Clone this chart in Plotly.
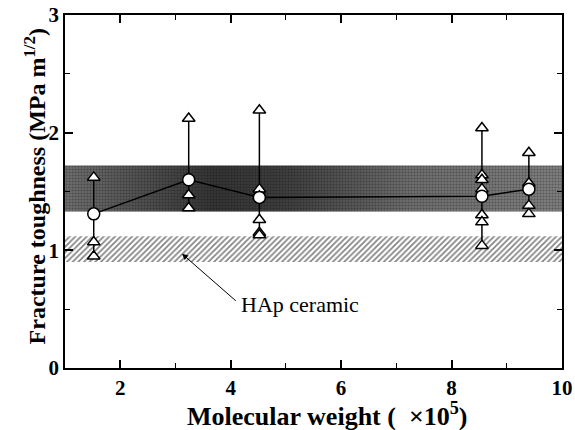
import plotly.graph_objects as go

# Molecular weight (x10^5) of each sample group
mw = [1.52, 3.24, 4.52, 8.55, 9.40]
# Mean fracture toughness (circles)
mean_kic = [1.31, 1.60, 1.45, 1.46, 1.52]
# Individual measurements (triangles) per group
tri_1 = [1.62, 1.07, 0.95]
tri_2 = [2.12, 1.47, 1.36]
tri_3 = [2.19, 1.52, 1.46, 1.26, 1.15, 1.13]
tri_4 = [2.04, 1.64, 1.60, 1.52, 1.30, 1.24, 1.04]
tri_5 = [1.83, 1.57, 1.38, 1.31]
triangles = [tri_1, tri_2, tri_3, tri_4, tri_5]

# Bands: bone range and HAp ceramic range
bone_band = [1.33, 1.72]
hap_band = [0.90, 1.12]
x_range = [1, 10]
y_range = [0, 3]
x_ticks = [2, 4, 6, 8, 10]
x_minor = [3, 5, 7, 9]
y_ticks = [0, 1, 2, 3]
y_minor = [0.5, 1.5, 2.5]

font_fam = "Liberation Serif"

fig = go.Figure()

band_x = [x_range[0], x_range[1], x_range[1], x_range[0], x_range[0]]
bone_y = [bone_band[0], bone_band[0], bone_band[1], bone_band[1], bone_band[0]]

# dark band (gradient grey)
fig.add_trace(go.Scatter(
    x=band_x, y=bone_y,
    mode="lines", line=dict(width=0), fill="toself",
    fillgradient=dict(type="horizontal",
                      colorscale=[[0, "#707070"], [0.3, "#353535"], [0.45, "#404040"],
                                  [0.7, "#707070"], [1, "#808080"]]),
    hoverinfo="skip", showlegend=False))
# stipple texture on top
fig.add_trace(go.Scatter(
    x=band_x, y=bone_y,
    mode="lines", line=dict(width=0), fill="toself",
    fillcolor="rgba(0,0,0,0)",
    fillpattern=dict(shape=".", fgcolor="rgba(0,0,0,0.6)", bgcolor="rgba(0,0,0,0)",
                     size=3, solidity=0.4),
    hoverinfo="skip", showlegend=False))

# hatched HAp band
fig.add_trace(go.Scatter(
    x=band_x,
    y=[hap_band[0], hap_band[0], hap_band[1], hap_band[1], hap_band[0]],
    mode="lines", line=dict(width=0), fill="toself",
    fillcolor="white",
    fillpattern=dict(shape="/", fgcolor="black", bgcolor="white", size=4, solidity=0.4),
    hoverinfo="skip", showlegend=False))

# vertical range lines
for i, (xv, ys) in enumerate(zip(mw, triangles)):
    allv = ys + [mean_kic[i]]
    fig.add_trace(go.Scatter(x=[xv, xv], y=[min(allv), max(allv)], mode="lines",
                             line=dict(color="black", width=1.5),
                             hoverinfo="skip", showlegend=False))

# mean line
fig.add_trace(go.Scatter(x=mw, y=mean_kic, mode="lines",
                         line=dict(color="black", width=1.5), showlegend=False))

# triangles
tx, ty = [], []
for xv, ys in zip(mw, triangles):
    for v in ys:
        tx.append(xv)
        ty.append(v)
fig.add_trace(go.Scatter(x=tx, y=ty, mode="markers",
                         marker=dict(symbol="triangle-up", size=11, color="white",
                                     line=dict(color="black", width=1.5)),
                         showlegend=False))

# circles
fig.add_trace(go.Scatter(x=mw, y=mean_kic, mode="markers",
                         marker=dict(symbol="circle", size=12, color="white",
                                     line=dict(color="black", width=1.5)),
                         showlegend=False))

fig.add_annotation(x=3.12, y=0.97, ax=4.12, ay=0.56, xref="x", yref="y",
                   axref="x", ayref="y", showarrow=True, arrowhead=2,
                   arrowsize=1.2, arrowwidth=1, arrowcolor="black", text="")
fig.add_annotation(x=4.15, y=0.54, xref="x", yref="y", text="HAp ceramic",
                   showarrow=False, xanchor="left",
                   font=dict(family=font_fam, size=22, color="black"))

# axis titles
fig.add_annotation(x=0.529, y=-0.133, xref="paper", yref="paper",
                   text="<b>Molecular weight (  ×10<sup>5</sup>)</b>", showarrow=False,
                   xanchor="center", yanchor="middle",
                   font=dict(family=font_fam, size=26, color="black"))
fig.add_annotation(x=-0.06, y=0.515, xref="paper", yref="paper",
                   text="<b>Fracture toughness (MPa m<sup>1/2</sup>)</b>", showarrow=False,
                   xanchor="center", yanchor="middle", textangle=-90,
                   font=dict(family=font_fam, size=24, color="black"))

axis_common = dict(showline=True, linecolor="black", linewidth=1.5, mirror="ticks",
                   ticks="inside", ticklen=8, tickwidth=1.5, tickcolor="black",
                   showgrid=False, zeroline=False, automargin=False,
                   tickfont=dict(family=font_fam, size=21, color="black"))

fig.update_xaxes(range=x_range, tickvals=x_ticks, ticktext=[f"<b>{t}</b>" for t in x_ticks],
                 minor=dict(tickvals=x_minor, ticks="inside", ticklen=5, tickwidth=1.2, tickcolor="black"),
                 **axis_common)
fig.update_yaxes(range=y_range, tickvals=y_ticks, ticktext=[f"<b>{t}</b>" for t in y_ticks],
                 minor=dict(tickvals=y_minor, ticks="inside", ticklen=5, tickwidth=1.2, tickcolor="black"),
                 **axis_common)

fig.update_layout(width=575, height=430, margin=dict(l=65, r=13, t=15, b=62),
                  plot_bgcolor="white", paper_bgcolor="white")

fig.write_html("out.html", config={"displayModeBar": False},
               post_script="document.body.style.margin='0';document.body.style.overflow='hidden';")
